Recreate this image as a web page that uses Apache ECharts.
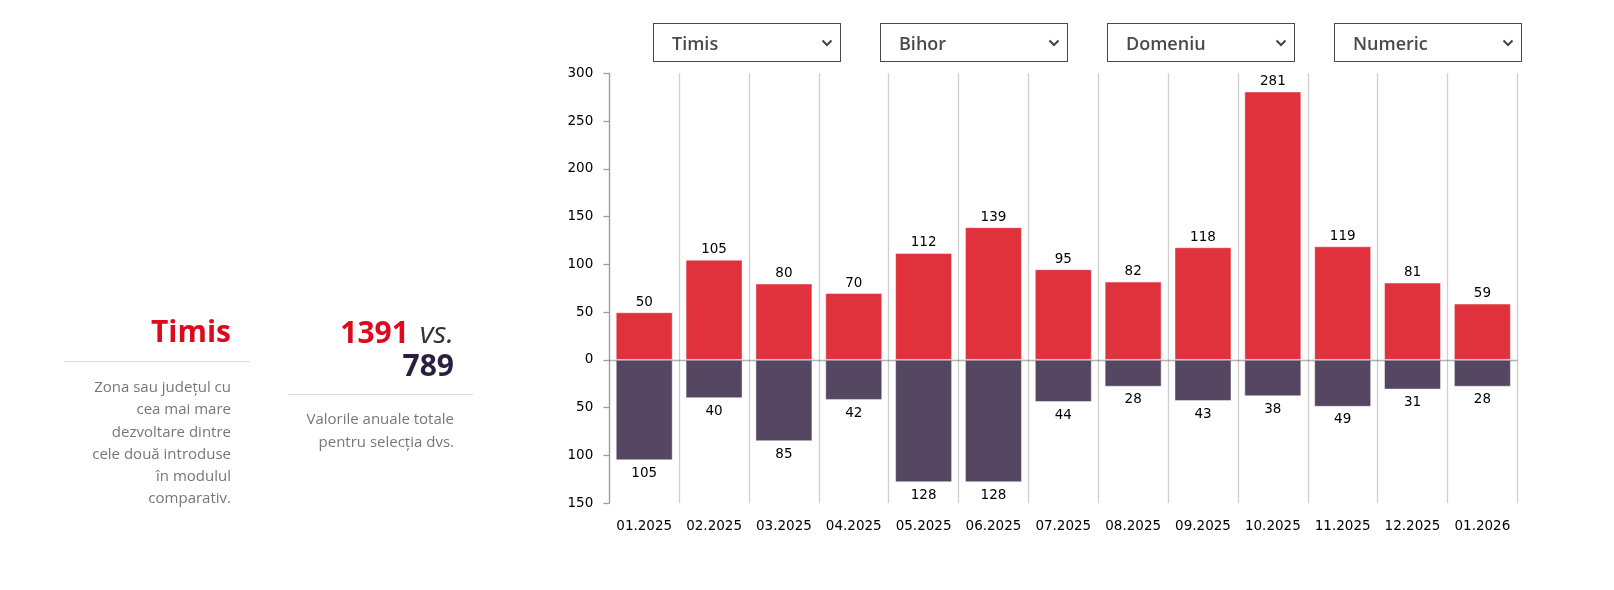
<!DOCTYPE html>
<html>
<head>
<meta charset="utf-8">
<script src="https://cdn.jsdelivr.net/npm/echarts@6/dist/echarts.min.js"></script>
<style>
  html, body { margin: 0; padding: 0; background: #fff; }
  body { width: 1614px; height: 590px; position: relative; overflow: hidden; font-family: "Open Sans", sans-serif; }
  #chart { position: absolute; left: 0; top: 0; width: 1614px; height: 590px; }
  .panel { position: absolute; text-align: right; }
  .big { font-weight: 700; font-size: 30px; }
  .rule { position: absolute; height: 1px; background: #dddddd; }
  .desc { position: absolute; text-align: right; font-size: 15px; line-height: 22.3px; color: #777; }
  .dd { position: absolute; top: 23px; width: 186px; height: 37px; border: 1px solid #4a4a4a; box-sizing: content-box;
        font-size: 18px; font-weight: 600; color: #4a4a4a; }
  .dd span { position: absolute; left: 18px; top: 50%; transform: translateY(-52%); }
  .dd svg { position: absolute; right: 7px; top: 15px; }
</style>
</head>
<body>
<div id="chart"></div>

<div class="panel big" style="left:64px; width:167px; top:313px; line-height:36px; color:#dc0a1c;">Timis</div>
<div class="rule" style="left:64px; width:186px; top:361px;"></div>
<div class="desc" style="left:64px; width:167px; top:375px;">Zona sau județul cu<br>cea mai mare<br>dezvoltare dintre<br>cele două introduse<br>în modulul<br>comparativ.</div>

<div class="panel big" style="left:288px; width:166px; top:315px; line-height:33px;"><span style="color:#dc0a1c;">1391</span> <span style="font-style:italic; font-weight:400; color:#333; margin-left:3px;">vs.</span><br><span style="color:#2c1e40;">789</span></div>
<div class="rule" style="left:288px; width:185px; top:394px;"></div>
<div class="desc" style="left:288px; width:166px; top:407px; line-height:22.5px;">Valorile anuale totale<br>pentru selecția dvs.</div>

<div class="dd" style="left:653px;"><span>Timis</span><svg width="12" height="8" viewBox="0 0 12 8"><path d="M1.5 1.5 L6 6 L10.5 1.5" fill="none" stroke="#444" stroke-width="2"/></svg></div>
<div class="dd" style="left:880px;"><span>Bihor</span><svg width="12" height="8" viewBox="0 0 12 8"><path d="M1.5 1.5 L6 6 L10.5 1.5" fill="none" stroke="#444" stroke-width="2"/></svg></div>
<div class="dd" style="left:1107px;"><span>Domeniu</span><svg width="12" height="8" viewBox="0 0 12 8"><path d="M1.5 1.5 L6 6 L10.5 1.5" fill="none" stroke="#444" stroke-width="2"/></svg></div>
<div class="dd" style="left:1334px;"><span>Numeric</span><svg width="12" height="8" viewBox="0 0 12 8"><path d="M1.5 1.5 L6 6 L10.5 1.5" fill="none" stroke="#444" stroke-width="2"/></svg></div>

<script>
const categories = ["01.2025","02.2025","03.2025","04.2025","05.2025","06.2025","07.2025","08.2025","09.2025","10.2025","11.2025","12.2025","01.2026"];
const timisValues = [50, 105, 80, 70, 112, 139, 95, 82, 118, 281, 119, 81, 59];
const bihorValues = [105, 40, 85, 42, 128, 128, 44, 28, 43, 38, 49, 31, 28];
const yMin = -150, yMax = 300, yStep = 50;

const chart = echarts.init(document.getElementById('chart'), null, { renderer: 'canvas' });
const labelFont = { fontFamily: 'DejaVu Sans', fontSize: 13.5, color: '#000' };
chart.setOption({
  animation: false,
  grid: { left: 609.3, top: 73.3, width: 908, height: 430, containLabel: false, outerBoundsMode: 'none' },
  xAxis: {
    type: 'category',
    data: categories,
    boundaryGap: true,
    axisLine: { show: false, onZero: false },
    axisTick: { show: false },
    axisLabel: Object.assign({ margin: 16, interval: 0 }, labelFont),
    splitLine: { show: true, interval: 0, lineStyle: { color: '#cfcfcf', width: 1.3 } }
  },
  yAxis: {
    type: 'value',
    min: yMin, max: yMax, interval: yStep,
    axisLine: { show: true, lineStyle: { color: '#a0a0a0', width: 1.3 } },
    axisTick: { show: true, length: 6, lineStyle: { color: '#a0a0a0', width: 1.3 } },
    axisLabel: Object.assign({ margin: 16, formatter: v => Math.abs(v) }, labelFont),
    splitLine: { show: false }
  },
  series: [
    {
      name: 'Timis', type: 'bar', stack: 'total', barWidth: 57,
      data: timisValues,
      itemStyle: { color: '#e0323d', borderColor: 'rgba(255,255,255,0.45)', borderWidth: 1 },
      label: Object.assign({ show: true, position: 'top', distance: 3 }, labelFont)
    },
    {
      name: 'Bihor', type: 'bar', stack: 'total', barWidth: 57,
      data: bihorValues.map(v => -v),
      itemStyle: { color: '#554662', borderColor: 'rgba(255,255,255,0.45)', borderWidth: 1 },
      label: Object.assign({ show: true, position: 'bottom', distance: 6, formatter: p => Math.abs(p.value) }, labelFont),
      markLine: {
        silent: true, symbol: 'none', label: { show: false },
        lineStyle: { color: 'rgba(40,40,40,0.35)', width: 1.3, type: 'solid' },
        data: [{ yAxis: 0 }]
      }
    }
  ]
});
</script>
</body>
</html>
